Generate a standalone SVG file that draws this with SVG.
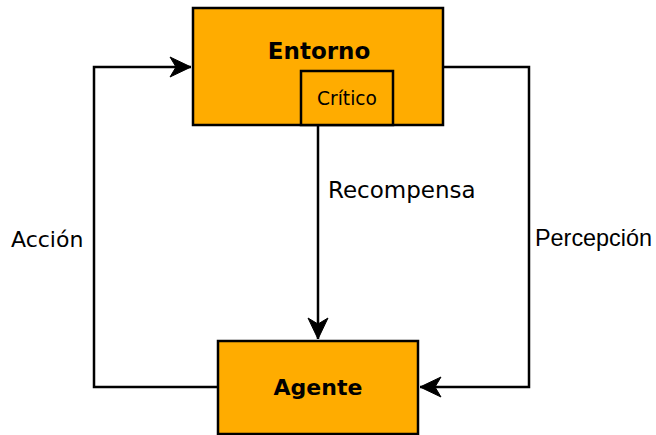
<svg xmlns="http://www.w3.org/2000/svg" width="656" height="435" viewBox="0 0 656 435">
<defs>
<style>
.box{fill:#FFAC00;stroke:#000;stroke-width:2.5}
.edge{fill:none;stroke:#000;stroke-width:2.5}
.t{font-family:"DejaVu Sans",sans-serif;fill:#000}
.b{font-weight:bold;font-size:22px}
.l{font-size:22px}
</style>
<marker id="arr" markerUnits="userSpaceOnUse" markerWidth="24" markerHeight="24" viewBox="-22 -12 24 24" refX="0" refY="0" orient="auto" overflow="visible">
<path d="M0,0 L-21,-10 L-15,0 L-21,10 Z" fill="#000" stroke="#000" stroke-width="1"/>
</marker>
</defs>
<rect width="656" height="435" fill="#fff"/>
<g id="connectors">
<path class="edge" d="M218,387 H94 V67 H191" marker-end="url(#arr)"/>
<path class="edge" d="M443,67 H529 V387 H420" marker-end="url(#arr)"/>
<path class="edge" d="M318,125 V339" marker-end="url(#arr)"/>
<text class="t l" x="11" y="247">Acción</text>
<text class="t" x="328" y="198" font-size="23px">Recompensa</text>
<text x="535" y="246" font-family="'Liberation Sans',Arial,sans-serif" font-size="23.4px">Percepción</text>
</g>
<g id="entorno">
<rect class="box" x="193" y="8" width="250" height="117"/>
<text class="t" x="319" y="59" text-anchor="middle" font-weight="bold" font-size="23px">Entorno</text>
</g>
<g id="critico">
<rect class="box" x="301" y="71" width="92" height="54"/>
<text class="t" x="347" y="105" text-anchor="middle" font-size="18.6px">Crítico</text>
</g>
<g id="agente">
<rect class="box" x="218" y="341" width="200" height="93"/>
<text class="t b" x="318" y="395" text-anchor="middle">Agente</text>
</g>
</svg>
